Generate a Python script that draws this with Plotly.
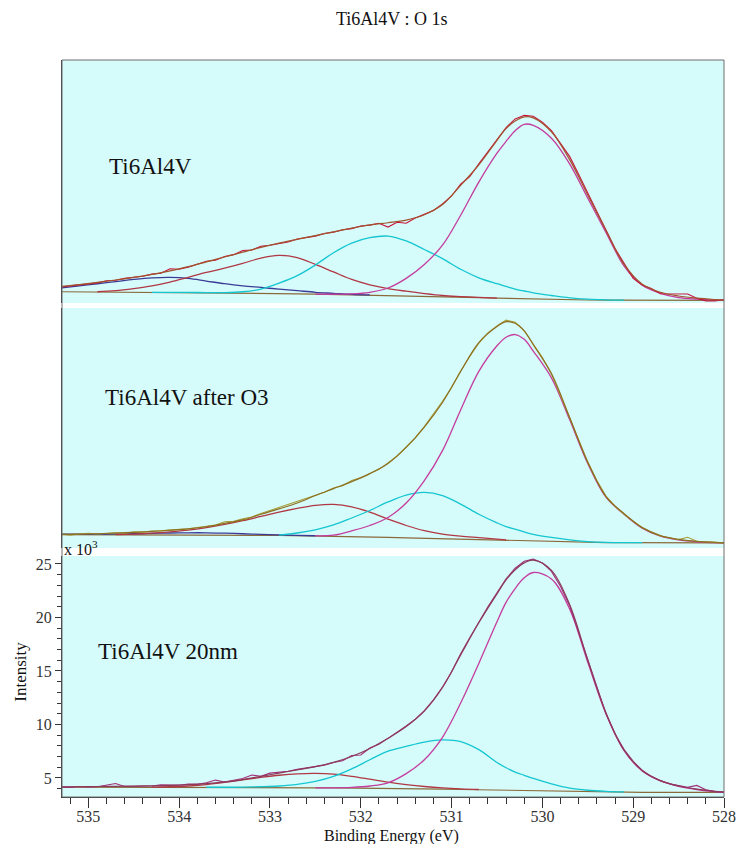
import plotly.graph_objects as go
from plotly.subplots import make_subplots

# ---------------------------------------------------------------------------
# O 1s spectra of Ti6Al4V (binding energy in eV, intensity in counts x 10^3)
# ---------------------------------------------------------------------------

# energy grid used for the fitted curves (baseline, components, envelope)
FIT_BE = [535.3, 535.1, 534.9, 534.7, 534.5, 534.3, 534.1, 533.9, 533.7, 533.5,
          533.3, 533.1, 532.9, 532.7, 532.5, 532.3, 532.1, 531.9, 531.7, 531.5,
          531.3, 531.1, 530.9, 530.7, 530.5, 530.4, 530.3, 530.2, 530.1, 529.9,
          529.7, 529.5, 529.3, 529.1, 528.9, 528.7, 528.5, 528.3, 528.1, 528.0]

# energy grid of the measured spectra (0.1 eV step)
RAW_BE = [round(535.3 - 0.1 * i, 1) for i in range(74)]

N = None

# ---- Ti6Al4V ----
P1_RAW = [4.50, 4.60, 4.70, 4.82, 4.88, 5.08, 5.12, 5.30, 5.38, 5.50,
          5.70, 5.78, 6.20, 6.15, 6.35, 6.62, 6.90, 7.00, 7.35, 7.52,
          7.90, 7.95, 8.30, 8.40, 8.58, 8.70, 8.98, 9.10, 9.25, 9.50,
          9.62, 9.85, 9.95, 10.20, 10.28, 10.45, 10.10, 10.55, 10.45, 10.95,
          11.30, 11.65, 12.25, 13.00, 14.10, 14.80, 16.00, 17.10, 18.30, 19.40,
          20.20, 20.55, 20.45, 19.90, 19.10, 17.90, 16.70, 15.00, 13.30, 11.60,
          9.90, 8.10, 6.70, 5.30, 4.68, 4.35, 3.86, 3.85, 3.86, 3.84,
          3.45, 3.20, 3.18, 3.30]
P1_ENV = [4.55, 4.72, 4.92, 5.15, 5.40, 5.68, 6.00, 6.40, 6.85, 7.30,
          7.75, 8.20, 8.60, 8.95, 9.30, 9.65, 10.00, 10.30, 10.50, 10.75,
          11.25, 12.20, 14.00, 15.90, 18.20, 19.30, 20.00, 20.40, 20.30, 19.00,
          16.40, 13.10, 9.80, 6.60, 4.75, 4.00, 3.65, 3.45, 3.32, 3.27]
P1_BASE = [4.05, 4.04, 4.03, 4.02, 4.01, 4.00, 3.99, 3.98, 3.96, 3.95,
           3.93, 3.91, 3.89, 3.86, 3.83, 3.80, 3.77, 3.74, 3.71, 3.67,
           3.63, 3.59, 3.55, 3.50, 3.45, 3.43, 3.40, 3.38, 3.36, 3.32,
           3.30, 3.28, 3.27, 3.26, 3.26, 3.25, 3.25, 3.25, 3.24, 3.24]
P1_BLUE = [4.41, 4.60, 4.80, 5.00, 5.20, 5.35, 5.40, 5.30, 5.05, 4.80,
           4.60, 4.45, 4.30, 4.15, 4.00, 3.90, 3.80, 3.75] + [N] * 22
P1_RED = [N, N, 4.05, 4.15, 4.35, 4.60, 4.95, 5.40, 5.85, 6.25,
          6.70, 7.20, 7.45, 7.25, 6.60, 5.90, 5.20, 4.70, 4.35, 4.10,
          3.88, 3.70, 3.60, 3.52, 3.46] + [N] * 15
P1_CYAN = [N] * 5 + [4.00, 4.00, 3.99, 3.97, 3.97, 4.05, 4.30, 4.85, 5.55, 6.55,
                     7.70, 8.60, 9.10, 9.25, 8.80, 8.00, 7.15, 6.15, 5.35, 4.80,
                     4.55, 4.30, 4.12, 3.95, 3.70, 3.48, 3.36, 3.30, 3.27] + [N] * 6
P1_MAG = [N] * 14 + [3.83, 3.82, 3.85, 4.00, 4.40, 5.30, 6.60, 8.40, 11.20, 14.30,
                     17.00, 18.10, 19.10, 19.70, 19.60, 18.40, 16.00, 12.80, 9.60, 6.45,
                     4.65, 3.90, 3.50, 3.36, 3.29, 3.27]

# ---- Ti6Al4V after O3 ----
P2_RAW = [4.30, 4.20, 4.30, 4.38, 4.30, 4.36, 4.42, 4.38, 4.50, 4.48,
          4.58, 4.60, 4.70, 4.74, 4.80, 4.92, 5.02, 5.15, 5.45, 5.50,
          5.72, 5.90, 6.22, 6.50, 6.80, 7.05, 7.40, 7.65, 7.95, 8.20,
          8.60, 8.82, 9.30, 9.55, 9.95, 10.35, 10.95, 11.60, 12.45, 13.30,
          14.35, 15.50, 16.70, 18.00, 19.55, 20.90, 22.15, 23.10, 23.75, 24.30,
          24.10, 23.30, 22.05, 20.80, 19.25, 17.30, 15.20, 13.10, 11.05, 9.30,
          7.85, 6.90, 6.15, 5.50, 4.90, 4.50, 4.12, 3.95, 3.78, 4.00,
          3.62, 3.58, 3.52, 3.48]
P2_ENV = [4.26, 4.29, 4.33, 4.40, 4.46, 4.55, 4.66, 4.78, 4.98, 5.30,
          5.62, 6.15, 6.65, 7.20, 7.90, 8.55, 9.20, 9.95, 10.90, 12.40,
          14.30, 16.60, 19.50, 22.20, 23.70, 24.15, 24.00, 23.30, 22.00, 19.30,
          15.20, 11.00, 7.80, 6.20, 4.90, 4.15, 3.80, 3.62, 3.52, 3.48]
P2_BASE = [4.25, 4.25, 4.24, 4.24, 4.23, 4.23, 4.22, 4.22, 4.21, 4.20,
           4.19, 4.18, 4.17, 4.15, 4.13, 4.10, 4.07, 4.03, 3.99, 3.95,
           3.91, 3.86, 3.81, 3.75, 3.70, 3.67, 3.64, 3.62, 3.60, 3.56,
           3.53, 3.51, 3.50, 3.49, 3.49, 3.48, 3.48, 3.48, 3.48, 3.48]
P2_BLUE = [4.30, 4.30, 4.30, 4.31, 4.33, 4.36, 4.40, 4.42, 4.42, 4.38,
           4.33, 4.27, 4.22, 4.18, 4.14] + [N] * 25
P2_RED = [N] * 3 + [4.26, 4.30, 4.38, 4.50, 4.66, 4.90, 5.20, 5.55, 5.95, 6.35,
                    6.70, 6.98, 7.07, 6.85, 6.35, 5.70, 5.10, 4.62, 4.30, 4.10,
                    3.96, 3.82, 3.76] + [N] * 14
P2_CYAN = [N] * 12 + [4.20, 4.40, 4.70, 5.15, 5.80, 6.50, 7.30, 7.95, 8.20, 7.90,
                      7.10, 6.15, 5.35, 5.00, 4.75, 4.50, 4.28, 3.98, 3.75, 3.60,
                      3.53, 3.50, 3.49] + [N] * 5
P2_MAG = [N] * 14 + [4.14, 4.20, 4.60, 5.10, 5.85, 7.20, 9.30, 12.10, 15.90, 19.50,
                     21.90, 22.70, 22.95, 22.50, 21.40, 18.90, 15.00, 10.90, 7.75, 6.15,
                     4.85, 4.10, 3.75, 3.58, 3.50, 3.48]

# ---- Ti6Al4V 20nm ----
P3_RAW = [4.15, 4.12, 4.20, 4.15, 4.18, 4.30, 4.48, 4.20, 4.22, 4.28,
          4.25, 4.35, 4.30, 4.32, 4.42, 4.40, 4.55, 4.80, 4.62, 4.75,
          4.95, 5.28, 5.15, 5.45, 5.50, 5.62, 5.80, 5.92, 6.05, 6.20,
          6.45, 6.60, 7.10, 7.15, 7.80, 8.15, 8.70, 9.25, 9.85, 10.50,
          11.30, 12.30, 13.50, 14.90, 16.60, 18.10, 19.60, 21.00, 22.30, 23.60,
          24.60, 25.25, 25.45, 25.10, 24.30, 22.90, 21.10, 18.60, 15.90, 13.40,
          11.00, 9.10, 7.65, 6.55, 5.70, 5.15, 4.75, 4.45, 4.30, 4.12,
          4.30, 3.90, 3.72, 3.68]
P3_ENV = [4.17, 4.18, 4.20, 4.22, 4.24, 4.27, 4.31, 4.37, 4.47, 4.63,
          4.85, 5.15, 5.45, 5.75, 6.05, 6.45, 7.00, 7.75, 8.70, 9.80,
          11.25, 13.45, 16.50, 19.50, 22.20, 23.50, 24.45, 25.10, 25.35, 24.40,
          21.20, 16.00, 11.10, 7.60, 5.70, 4.75, 4.25, 3.95, 3.75, 3.68]
P3_BASE = [4.15, 4.15, 4.15, 4.15, 4.14, 4.14, 4.14, 4.13, 4.13, 4.12,
           4.12, 4.11, 4.10, 4.09, 4.08, 4.07, 4.06, 4.04, 4.02, 4.00,
           3.98, 3.95, 3.92, 3.89, 3.86, 3.84, 3.82, 3.80, 3.78, 3.75,
           3.72, 3.70, 3.68, 3.67, 3.66, 3.66, 3.65, 3.65, 3.65, 3.65]
P3_RED = [N] * 5 + [4.15, 4.18, 4.25, 4.38, 4.58, 4.82, 5.05, 5.25, 5.38, 5.42,
                    5.35, 5.15, 4.88, 4.60, 4.38, 4.20, 4.07, 3.98, 3.92] + [N] * 16
P3_CYAN = [N] * 8 + [4.13, 4.13, 4.14, 4.18, 4.25, 4.40, 4.68, 5.15, 5.85, 6.70,
                     7.50, 7.95, 8.35, 8.55, 8.40, 7.65, 6.45, 5.95, 5.55, 5.25,
                     4.95, 4.45, 4.05, 3.85, 3.75, 3.70] + [N] * 6
P3_MAG = [N] * 14 + [4.08, 4.08, 4.12, 4.25, 4.55, 5.40, 6.70, 8.80, 12.00, 15.70,
                     19.60, 21.40, 22.70, 23.70, 24.20, 23.60, 20.80, 15.80, 11.00, 7.55,
                     5.65, 4.72, 4.22, 3.92, 3.72, 3.66]

PANEL_LABELS = ["Ti6Al4V", "Ti6Al4V after O3", "Ti6Al4V 20nm"]
X_TICKS = [535, 534, 533, 532, 531, 530, 529, 528]
Y_TICKS = [5, 10, 15, 20, 25]

# ---------------------------------------------------------------------------
SERIF = "Liberation Serif, Times New Roman, serif"
BG = "#d6fbfb"
C_BASE = "#8b6a3a"
C_BLUE = "#3c3c96"
C_RED = "#b03844"
C_CYAN = "#14c6d0"
C_MAG = "#c43c9e"

panels = [
    dict(raw=P1_RAW, env=P1_ENV, base=P1_BASE, comps=[(P1_BLUE, C_BLUE), (P1_RED, C_RED), (P1_CYAN, C_CYAN), (P1_MAG, C_MAG)],
         c_raw="#c8143c", c_env="#a0522d"),
    dict(raw=P2_RAW, env=P2_ENV, base=P2_BASE, comps=[(P2_BLUE, C_BLUE), (P2_RED, C_RED), (P2_CYAN, C_CYAN), (P2_MAG, C_MAG)],
         c_raw="#a89e3c", c_env="#8b7020"),
    dict(raw=P3_RAW, env=P3_ENV, base=P3_BASE, comps=[(P3_RED, C_RED), (P3_CYAN, C_CYAN), (P3_MAG, C_MAG)],
         c_raw="#a0307a", c_env="#8b3a5a"),
]

fig = make_subplots(rows=3, cols=1, shared_xaxes=True, vertical_spacing=0.01)

for r, p in enumerate(panels, start=1):
    fig.add_trace(go.Scatter(x=FIT_BE, y=p["base"], mode="lines",
                             line=dict(color=C_BASE, width=1.2)), row=r, col=1)
    for vals, col in p["comps"]:
        fig.add_trace(go.Scatter(x=FIT_BE, y=vals, mode="lines",
                                 line=dict(color=col, width=1.3, shape="spline")), row=r, col=1)
    fig.add_trace(go.Scatter(x=RAW_BE, y=p["raw"], mode="lines",
                             line=dict(color=p["c_raw"], width=1.1)), row=r, col=1)
    fig.add_trace(go.Scatter(x=FIT_BE, y=p["env"], mode="lines",
                             line=dict(color=p["c_env"], width=1.2, shape="spline")), row=r, col=1)

# plot area spans 62..735 px horizontally and 60..797 px vertically
x_range = [535.29, 528.0]
axis_common = dict(showgrid=False, zeroline=False)

fig.update_layout(
    width=748, height=844,
    margin=dict(l=62, r=13, t=60, b=47),
    paper_bgcolor="white", plot_bgcolor=BG,
    showlegend=False,
    yaxis=dict(domain=[0.6703, 1.0], range=[3.0, 25.71], showticklabels=False, ticks="",
               showline=True, linecolor="#333", linewidth=1, **axis_common),
    yaxis2=dict(domain=[0.3379, 0.6635], range=[3.0, 25.43], showticklabels=False, ticks="",
                showline=True, linecolor="#333", linewidth=1, **axis_common),
    yaxis3=dict(domain=[0.0, 0.3270], range=[3.22, 25.74], tickvals=Y_TICKS,
                ticks="outside", ticklen=6, tickcolor="#333", showline=True, linecolor="#333",
                linewidth=1, tickfont=dict(family=SERIF, size=16, color="#333"),
                minor=dict(dtick=1, ticks="outside", ticklen=4, tickcolor="#333", showgrid=False),
                **axis_common),
    xaxis=dict(range=x_range, showticklabels=False, ticks="", showline=False, **axis_common),
    xaxis2=dict(range=x_range, showticklabels=False, ticks="", showline=False, **axis_common),
    xaxis3=dict(range=x_range, tickvals=X_TICKS, ticks="outside", ticklen=10, tickcolor="#333",
                showline=True, linecolor="#333", linewidth=1, ticklabelstandoff=-5,
                tickfont=dict(family=SERIF, size=16, color="#333"),
                minor=dict(dtick=0.2, ticks="outside", ticklen=6, tickcolor="#333", showgrid=False),
                **axis_common),
)

# frame around the stacked plot area
fig.add_shape(type="rect", xref="paper", yref="paper", x0=0, x1=1, y0=0, y1=1,
              line=dict(color="#6f6f6f", width=1), layer="above")

annotations = [
    dict(text="Ti6Al4V : O 1s", x=0.4978, y=1.055, font=dict(size=18)),
    dict(text="Binding Energy (eV)", x=0.4978, y=-0.0525, font=dict(size=16)),
    dict(text="Intensity", x=-0.0639, y=0.1696, textangle=-90, font=dict(size=17)),
    dict(text="x 10<sup>3</sup>", x=0.0, y=0.3385, xanchor="left", font=dict(size=16)),
    dict(text=PANEL_LABELS[0], x=0.0684, y=0.8555, xanchor="left", font=dict(size=23)),
    dict(text=PANEL_LABELS[1], x=0.0618, y=0.5427, xanchor="left", font=dict(size=23)),
    dict(text=PANEL_LABELS[2], x=0.0520, y=0.1974, xanchor="left", font=dict(size=23)),
]
for a in annotations:
    a.setdefault("xanchor", "center")
    a["font"] = dict(family=SERIF, color="#111", **a["font"])
    fig.add_annotation(xref="paper", yref="paper", yanchor="middle", showarrow=False, **a)

fig.write_html("out.html")
